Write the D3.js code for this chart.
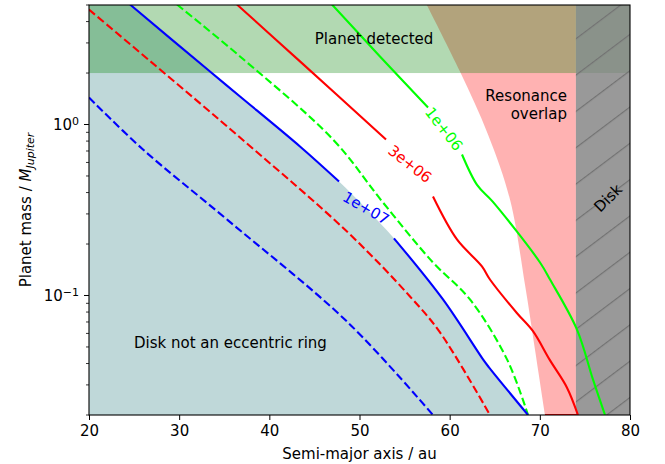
<!DOCTYPE html>
<html>
<head>
<meta charset="utf-8">
<script src="https://cdn.jsdelivr.net/npm/d3@7"></script>
<style>
  body { margin: 0; background: #fff; }
  text { font-family: "DejaVu Sans", sans-serif; }
</style>
</head>
<body>
<div id="chart"></div>
<script>
// contour lines, [semi-major axis (au), planet mass (M_Jupiter)]
var blue_solid_a = [ [24.55, 5.03], [33.42, 2.04], [36.75, 1.458], [43.40, 0.744], [47.73, 0.464] ];
var blue_solid_b = [ [53.82, 0.216], [59.26, 0.0948], [63.70, 0.0423], [64.36, 0.0380], [68.69, 0.02] ];
var blue_dashed = [ [20, 1.438], [25.99, 0.714], [35.42, 0.275], [48.72, 0.0695], [58.15, 0.02] ];

var red_solid_a = [ [36.41, 5.03], [43.40, 2.34], [52.94, 0.817] ];
var red_solid_b = [ [58.15, 0.379], [60.81, 0.2126], [63.58, 0.148], [64.47, 0.124], [67.45, 0.079],
	[69.22, 0.062], [71.1, 0.042], [73.0, 0.029], [74.23, 0.02] ];
var red_bottom = [ [70.57, 0.02], [74.23, 0.02] ];
var red_dashed = [ [20, 4.70], [36.75, 0.839], [48.72, 0.2336], [55.60, 0.0987], [58.93, 0.0608], [64.47, 0.02] ];

var green_solid_a = [ [46.95, 5.03], [52.27, 2.50], [57.60, 1.257] ];
var green_solid_b = [ [61.37, 0.668], [63.08, 0.44], [64.75, 0.355], [70.02, 0.156], [71.13, 0.124],
	[74.12, 0.0632], [75.89, 0.0323], [77.23, 0.02] ];
var green_dashed = [ [29.76, 5.03], [36.75, 2.50], [47.06, 0.817], [52.60, 0.350], [58.15, 0.156],
	[62.25, 0.0948], [66.36, 0.0423], [68.69, 0.02] ];

// left edge of the resonance overlap region
var resonance_edge = [ [57.3, 5.2], [61.14, 2.04], [64.25, 0.874], [66.69, 0.364], [68.35, 0.116], [69.46, 0.0483], [70.57, 0.02] ];

var detected_mass = 2;     // planet detected above this mass
var disk_edge = 74;        // disk starts here
var x_ticks = [20, 30, 40, 50, 60, 70, 80];
var y_major = [0.1, 1];
var y_minor = [0.02, 0.03, 0.04, 0.05, 0.06, 0.07, 0.08, 0.09, 0.2, 0.3, 0.4, 0.5, 0.6, 0.7, 0.8, 0.9, 2, 3, 4, 5];

var chart_width = 665;
var chart_height = 464;
var p_left = 89, p_right = 630, p_top = 5, p_bottom = 415;
var fs = 15;

var svg = d3.select('#chart')
	.append('svg')
	.attr('width', chart_width)
	.attr('height', chart_height);

var x_scale = d3.scaleLinear().domain([20, 80]).range([p_left, p_right]);
var y_scale = d3.scaleLog().domain([0.02, 5]).range([p_bottom, p_top]);

var defs = svg.append('defs');
defs.append('clipPath').attr('id', 'plot')
	.append('rect')
	.attr('x', p_left).attr('y', p_top)
	.attr('width', p_right - p_left).attr('height', p_bottom - p_top);

var hatch = defs.append('pattern')
	.attr('id', 'hatch')
	.attr('patternUnits', 'userSpaceOnUse')
	.attr('width', 29).attr('height', 29)
	.attr('patternTransform', 'rotate(-37)');
hatch.append('line')
	.attr('x1', 0).attr('y1', 0.6).attr('x2', 29).attr('y2', 0.6)
	.attr('stroke', '#727272').attr('stroke-width', 1.2);

var g = svg.append('g').attr('clip-path', 'url(#plot)');

var line = d3.line()
	.x(function (d) { return x_scale(d[0]); })
	.y(function (d) { return y_scale(d[1]); })
	.curve(d3.curveCatmullRom.alpha(0.5));
var straight = d3.line()
	.x(function (d) { return x_scale(d[0]); })
	.y(function (d) { return y_scale(d[1]); });

// Disk not an eccentric ring: below the 1e7 contour
var blue_full = blue_solid_a.concat(blue_solid_b);
g.append('path')
	.attr('d', line(blue_full) + straight([[20, 0.02], [20, 5.2]]).replace('M', 'L') + 'Z')
	.attr('fill', 'cadetblue')
	.attr('fill-opacity', 0.4);

// resonance overlap
g.append('path')
	.attr('d', line(resonance_edge) + straight([[disk_edge, 0.02], [disk_edge, 5.2]]).replace('M', 'L') + 'Z')
	.attr('fill', 'red')
	.attr('fill-opacity', 0.3);

// planet detected
g.append('rect')
	.attr('x', x_scale(20))
	.attr('y', y_scale(5))
	.attr('width', x_scale(80) - x_scale(20))
	.attr('height', y_scale(detected_mass) - y_scale(5))
	.attr('fill', 'green')
	.attr('fill-opacity', 0.3);

// disk
g.append('rect')
	.attr('x', x_scale(disk_edge))
	.attr('y', y_scale(5))
	.attr('width', x_scale(80) - x_scale(disk_edge))
	.attr('height', y_scale(0.02) - y_scale(5))
	.attr('fill', 'gray')
	.attr('fill-opacity', 0.8);
g.append('rect')
	.attr('x', x_scale(disk_edge))
	.attr('y', y_scale(5))
	.attr('width', x_scale(80) - x_scale(disk_edge))
	.attr('height', y_scale(0.02) - y_scale(5))
	.attr('fill', 'url(#hatch)');

// contours
var curves = [
	{ pts: blue_dashed, color: '#0000ff', dash: '8,3.5' },
	{ pts: red_dashed, color: '#ff0000', dash: '8,3.5' },
	{ pts: green_dashed, color: '#00ff00', dash: '8,3.5' },
	{ pts: blue_solid_a, color: '#0000ff' },
	{ pts: blue_solid_b, color: '#0000ff' },
	{ pts: red_solid_a, color: '#ff0000' },
	{ pts: red_solid_b, color: '#ff0000' },
	{ pts: red_bottom, color: '#ff0000' },
	{ pts: green_solid_a, color: '#00ff00' },
	{ pts: green_solid_b, color: '#00ff00' }
];
curves.forEach(function (c) {
	g.append('path')
		.attr('d', line(c.pts))
		.attr('fill', 'none')
		.attr('stroke', c.color)
		.attr('stroke-width', 2.1)
		.attr('stroke-dasharray', c.dash || null);
});

// contour labels
var clabels = [
	{ text: '1e+07', color: '#0000ff', x: 366, y: 208, rot: 30 },
	{ text: '3e+06', color: '#ff0000', x: 410, y: 164, rot: 38 },
	{ text: '1e+06', color: '#00ff00', x: 444, y: 129, rot: 52 }
];
clabels.forEach(function (l) {
	svg.append('text')
		.attr('transform', 'translate(' + l.x + ',' + l.y + ') rotate(' + l.rot + ')')
		.attr('text-anchor', 'middle')
		.attr('dy', '0.35em')
		.attr('font-size', fs)
		.attr('fill', l.color)
		.text(l.text);
});

// region labels
svg.append('text').attr('x', 374).attr('y', 44)
	.attr('text-anchor', 'middle').attr('font-size', fs).text('Planet detected');
svg.append('text').attr('x', 567).attr('y', 101)
	.attr('text-anchor', 'end').attr('font-size', fs).text('Resonance');
svg.append('text').attr('x', 567).attr('y', 119)
	.attr('text-anchor', 'end').attr('font-size', fs).text('overlap');
svg.append('text').attr('x', 134).attr('y', 348)
	.attr('font-size', fs).text('Disk not an eccentric ring');
svg.append('text')
	.attr('transform', 'translate(608,198) rotate(-45)')
	.attr('text-anchor', 'middle').attr('dy', '0.35em')
	.attr('font-size', fs).text('Disk');

// axes
var x_axis = d3.axisBottom(x_scale).tickValues(x_ticks).tickSize(5).tickPadding(5)
	.tickFormat(d3.format('d'));
var xa = svg.append('g').attr('transform', 'translate(0,' + p_bottom + ')').call(x_axis);
xa.select('.domain').remove();
xa.selectAll('text').attr('font-size', fs).attr('font-family', 'DejaVu Sans').attr('fill', '#000');
xa.selectAll('line').attr('stroke', '#000').attr('stroke-width', 1);

var ya = svg.append('g').attr('transform', 'translate(' + p_left + ',0)');
ya.selectAll('.minor').data(y_minor).enter().append('line')
	.attr('x1', -3).attr('x2', 0)
	.attr('y1', function (d) { return y_scale(d); })
	.attr('y2', function (d) { return y_scale(d); })
	.attr('stroke', '#000').attr('stroke-width', 0.8);
ya.selectAll('.major').data(y_major).enter().append('line')
	.attr('x1', -5).attr('x2', 0)
	.attr('y1', function (d) { return y_scale(d); })
	.attr('y2', function (d) { return y_scale(d); })
	.attr('stroke', '#000').attr('stroke-width', 1);
var ylab = ya.selectAll('.lab').data(y_major).enter().append('text')
	.attr('x', -10)
	.attr('y', function (d) { return y_scale(d); })
	.attr('dy', '0.35em')
	.attr('text-anchor', 'end')
	.attr('font-size', fs);
ylab.append('tspan').text('10');
ylab.append('tspan').attr('dy', '-0.45em').attr('font-size', 11)
	.text(function (d) { return d === 1 ? '0' : '\u22121'; });

// frame
svg.append('rect')
	.attr('x', p_left).attr('y', p_top)
	.attr('width', p_right - p_left).attr('height', p_bottom - p_top)
	.attr('fill', 'none').attr('stroke', '#000').attr('stroke-width', 1.1);

// axis titles
svg.append('text').attr('x', (p_left + p_right) / 2).attr('y', 459)
	.attr('text-anchor', 'middle').attr('font-size', fs).text('Semi-major axis / au');
var yt = svg.append('text')
	.attr('transform', 'translate(31,210) rotate(-90)')
	.attr('text-anchor', 'middle').attr('font-size', fs);
yt.append('tspan').text('Planet mass / ');
yt.append('tspan').attr('font-style', 'italic').text('M');
yt.append('tspan').attr('font-style', 'italic').attr('font-size', 11).attr('dy', '0.3em').text('Jupiter');
</script>
</body>
</html>
